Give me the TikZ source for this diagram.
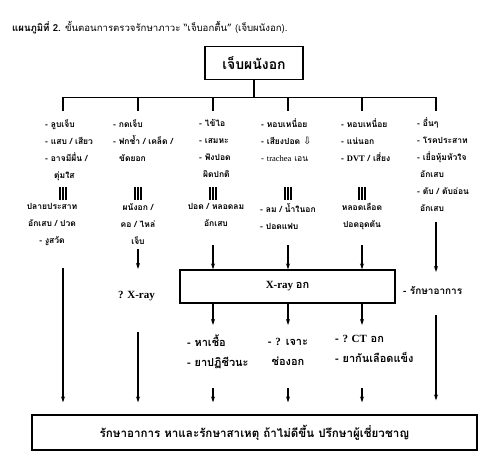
\documentclass[tikz,border=0pt]{standalone}
\usepackage{fontspec}
\newfontfamily\thai[Script=Thai]{Loma}
\newfontfamily\lat{Liberation Serif}
\newfontfamily\sym{DejaVu Sans}
\usetikzlibrary{arrows.meta, positioning, calc}

\newcommand{\tribar}{\rule{1.8pt}{13pt}\hspace{1.4pt}\rule{1.8pt}{13pt}\hspace{1.4pt}\rule{1.8pt}{13pt}}

\begin{document}
\begin{tikzpicture}[
    x=1pt, y=1pt,
    box/.style={draw, line width=1.3pt, rectangle, inner sep=0pt},
    sympt/.style={font=\thai\bfseries\fontsize{8.5}{17}\selectfont, align=left,
        anchor=north west, inner sep=0pt},
    diag/.style={font=\thai\bfseries\fontsize{8.5}{17}\selectfont, align=center,
        anchor=north, inner sep=0pt},
    implies/.style={inner sep=0pt},
    result/.style={font=\thai\bfseries\fontsize{11}{20}\selectfont, align=left,
        anchor=north west, inner sep=0pt},
    line/.style={line width=1.1pt},
    arr/.style={-{Stealth[length=6pt,width=4pt]}, line width=1.1pt},
]
\useasboundingbox (0,0) rectangle (500,-471);

% Title
\node[anchor=west, inner sep=0pt, font=\thai\fontsize{9.6}{11}\selectfont] (title) at (12,-28)
    {{\bfseries แผนภูมิที่ 2.} ขั้นตอนการตรวจรักษาภาวะ “เจ็บอกตื้น” (เจ็บผนังอก).};

% Top box
\node[box, minimum width=98, minimum height=33, font=\thai\bfseries\fontsize{14}{16}\selectfont]
    (chest) at (254,-63) {เจ็บผนังอก};

% Column heads
\coordinate (k1) at (63,-111);
\coordinate (k2) at (138,-111);
\coordinate (k3) at (213,-111);
\coordinate (k4) at (288,-111);
\coordinate (k5) at (362,-111);
\coordinate (k6) at (436,-111);

\foreach \i in {1,...,6}
    \draw[line] (chest.south) -- ++(0,-17) -| (k\i);

% Symptoms
\node[sympt] (s1) at (45,-119) {- ลูบเจ็บ\\- แสบ / เสียว\\- อาจมีผื่น /\\\hspace{9pt}ตุ่มใส};
\node[sympt] (s2) at (113,-119) {- กดเจ็บ\\- ฟกช้ำ / เคล็ด /\\\hspace{6pt}ขัดยอก};
\node[sympt] (s3) at (199,-119) {- ไข้ไอ\\- เสมหะ\\- ฟังปอด\\\hspace{4pt}ผิดปกติ};
\node[sympt] (s4) at (261,-119) {- หอบเหนื่อย\\- เสียงปอด {\sym\mdseries\fontsize{10}{17}\selectfont ⇩}\\
    {\mdseries - {\lat trachea} เอน}};
\node[sympt] (s5) at (341,-119) {- หอบเหนื่อย\\- แน่นอก\\- {\lat DVT} / เสี่ยง};
\node[sympt] (s6) at (417,-118) {- อื่นๆ\\- โรคประสาท\\- เยื่อหุ้มหัวใจ\\\hspace{3pt}อักเสบ\\
    - ตับ / ตับอ่อน\\\hspace{3pt}อักเสบ};

% Implies bars
\foreach \i in {1,...,5}
    \node[implies] (b\i) at ($(k\i)+(0,-82)$) {\tribar};

% Diagnoses
\node[diag] (d1) at (52,-203) {ปลายประสาท\\อักเสบ / ปวด\\- งูสวัด};
\node[diag] (d2) at (138,-203) {ผนังอก /\\คอ / ไหล่\\เจ็บ};
\node[diag] (d3) at (216,-203) {ปอด / หลอดลม\\อักเสบ};
\node[sympt] (d4) at (260,-203) {- ลม / น้ำในอก\\- ปอดแฟบ};
\node[diag] (d5) at (362,-203) {หลอดเลือด\\ปอดอุดตัน};

% X-ray
\node[box, minimum width=215, minimum height=33, font=\lat\bfseries\fontsize{11}{13}\selectfont]
    (xray) at (287.5,-286.5) {X-ray {\thai อก}};
\node[anchor=west, inner sep=0pt, font=\lat\bfseries\fontsize{11}{13}\selectfont]
    (xr2) at (118,-296) {? X-ray};

% Results
\node[result] (r3) at (187,-335) {- หาเชื้อ\\- ยาปฏิชีวนะ};
\node[result, align=center, anchor=north] (r4) at (288,-338) {- {\lat ?} เจาะ\\ช่องอก};
\node[result] (r5) at (335,-335) {- {\lat ? CT} อก\\- ยากันเลือดแข็ง};
\node[anchor=west, inner sep=0pt, font=\thai\bfseries\fontsize{10}{12}\selectfont]
    (r6) at (403,-290) {- รักษาอาการ};

% Final box
\node[box, minimum width=445, minimum height=35, font=\thai\bfseries\fontsize{11.6}{13}\selectfont]
    (final) at (254.5,-432.5) {รักษาอาการ หาและรักษาสาเหตุ ถ้าไม่ดีขึ้น ปรึกษาผู้เชี่ยวชาญ};

% Arrows
\draw[arr] (k1 |- 0,-268) -- ([yshift=12pt]final.north -| k1);
\draw[arr] (k2 |- 0,-249) -- (k2 |- 0,-269);
\draw[arr] (k2 |- 0,-332) -- ([yshift=12pt]final.north -| k2);
\foreach \i in {3,4,5} {
    \draw[arr] (k\i |- 0,-245) -- (xray.north -| k\i);
    \draw[arr] (xray.south -| k\i) -- (k\i |- 0,-325);
    \draw[arr] (k\i |- 0,-388) -- ([yshift=12pt]final.north -| k\i);
}
\draw[arr] (k6 |- 0,-222) -- (k6 |- 0,-272);
\draw[arr] (k6 |- 0,-315) -- ([yshift=14pt]final.north -| k6);

\end{tikzpicture}
\end{document}
